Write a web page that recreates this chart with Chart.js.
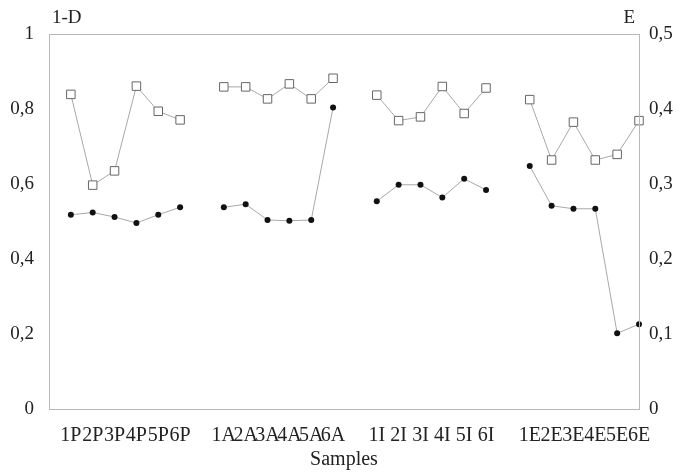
<!DOCTYPE html>
<html>
<head>
<meta charset="utf-8">
<script src="https://cdn.jsdelivr.net/npm/chart.js"></script>
<style>
  html, body { margin: 0; padding: 0; background: #fff; }
  #wrap { width: 678px; height: 473px; }
</style>
</head>
<body>
<div id="wrap"><canvas id="chart" width="678" height="473"></canvas></div>
<script>
// categories (empty slot = gap between sample groups)
const samples = ['',
  '1P', '2P', '3P', '4P', '5P', '6P', '',
  '1A', '2A', '3A', '4A', '5A', '6A', '',
  '1I', '2I', '3I', '4I', '5I', '6I', '',
  '1E', '2E', '3E', '4E', '5E', '6E'];

// 1-D (left axis), open squares
const simpson = [null,
  0.839, 0.597, 0.635, 0.861, 0.794, 0.771, null,
  0.859, 0.859, 0.827, 0.867, 0.827, 0.882, null,
  0.837, 0.769, 0.779, 0.860, 0.788, 0.856, null,
  0.825, 0.664, 0.765, 0.664, 0.679, 0.769];

// E (right axis), filled circles
const evenness = [null,
  0.259, 0.262, 0.256, 0.248, 0.259, 0.269, null,
  0.269, 0.273, 0.252, 0.251, 0.252, 0.402, null,
  0.277, 0.299, 0.299, 0.282, 0.307, 0.292, null,
  0.324, 0.271, 0.267, 0.267, 0.101, 0.113];

const leftTicks = [0, 0.2, 0.4, 0.6, 0.8, 1];
const rightTicks = [0, 0.1, 0.2, 0.3, 0.4, 0.5];

const serif = '"Liberation Serif", "DejaVu Serif", serif';
const comma = v => String(+v.toFixed(1)).replace('.', ',');

// cadre gris + titres des axes verticaux
const framePlugin = {
  id: 'frame',
  afterDraw(chart) {
    const { ctx, chartArea: a } = chart;
    ctx.save();
    ctx.strokeStyle = '#b8b8b8';
    ctx.lineWidth = 1;
    ctx.strokeRect(a.left + 0.5, a.top + 0.5, a.right - a.left, a.bottom - a.top);
    ctx.fillStyle = '#222';
    ctx.font = '19px ' + serif;
    ctx.textBaseline = 'alphabetic';
    ctx.textAlign = 'left';
    ctx.fillText('1-D', 52, 23);
    ctx.textAlign = 'right';
    ctx.fillText('E', 635, 23);
    ctx.restore();
  }
};

new Chart(document.getElementById('chart'), {
  type: 'line',
  data: {
    labels: samples,
    datasets: [
      {
        label: '1-D',
        data: simpson,
        yAxisID: 'y',
        borderColor: '#a8a8a8',
        borderWidth: 1,
        pointStyle: 'rect',
        pointRadius: 6,
        pointBorderColor: '#666',
        pointBackgroundColor: '#fff',
        pointBorderWidth: 1,
        spanGaps: false,
        tension: 0
      },
      {
        label: 'E',
        data: evenness,
        yAxisID: 'y1',
        borderColor: '#a8a8a8',
        borderWidth: 1,
        pointStyle: 'circle',
        pointRadius: 3,
        pointBorderColor: '#111',
        pointBackgroundColor: '#111',
        pointBorderWidth: 0,
        spanGaps: false,
        tension: 0
      }
    ]
  },
  options: {
    responsive: false,
    animation: false,
    layout: { padding: { top: 34, left: 0, right: 0, bottom: 0 } },
    plugins: { legend: { display: false }, tooltip: { enabled: false } },
    scales: {
      x: {
        type: 'category',
        offset: false,
        grid: { display: false },
        border: { display: false },
        ticks: {
          autoSkip: false,
          maxRotation: 0,
          padding: 7,
          color: '#222',
          font: { family: serif, size: 20 }
        },
        title: {
          display: true,
          text: 'Samples',
          color: '#222',
          font: { family: serif, size: 20 },
          padding: { top: 0, bottom: 1 }
        },
        afterFit(s) { s.height = 64; }
      },
      y: {
        position: 'left',
        min: 0,
        max: 1,
        grid: { display: false },
        border: { display: false },
        afterBuildTicks(s) { s.ticks = leftTicks.map(v => ({ value: v })); },
        ticks: {
          padding: 7,
          color: '#222',
          font: { family: serif, size: 19 },
          callback: v => comma(v)
        },
        afterFit(s) { s.width = 49; }
      },
      y1: {
        position: 'right',
        min: 0,
        max: 0.5,
        grid: { display: false },
        border: { display: false },
        afterBuildTicks(s) { s.ticks = rightTicks.map(v => ({ value: v })); },
        ticks: {
          padding: 2,
          color: '#222',
          font: { family: serif, size: 19 },
          callback: v => comma(v)
        },
        afterFit(s) { s.width = 39; }
      }
    }
  },
  plugins: [framePlugin]
});
</script>
</body>
</html>
